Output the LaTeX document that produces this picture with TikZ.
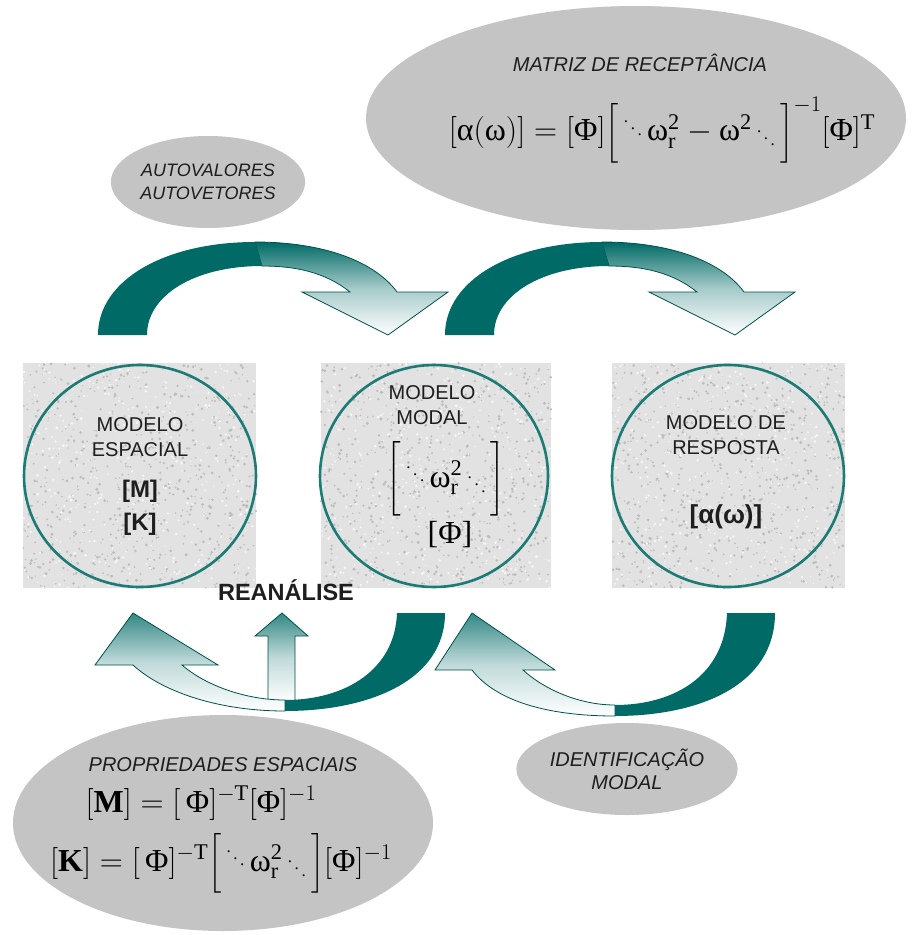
\documentclass[tikz,border=0pt]{standalone}
\usepackage{fix-cm}
\usepackage{amsmath}
\usepackage{fontspec}
\setmainfont{Liberation Serif}
\setsansfont{Liberation Sans}
\usepackage{tikz}
\usetikzlibrary{shapes.geometric}
\definecolor{arrowteal}{RGB}{0,106,102}
\definecolor{ringteal}{RGB}{28,124,117}
\definecolor{blobgrey}{RGB}{196,196,196}
\definecolor{granitebg}{RGB}{226,226,226}
\definecolor{speckgrey}{RGB}{188,188,188}
\definecolor{labelgrey}{RGB}{30,30,30}
\tikzset{
  blob/.style={ellipse,fill=blobgrey,inner sep=0pt},
  ring/.style={ellipse,draw=ringteal,line width=2.6pt,inner sep=0pt},
  caps/.style={font=\sffamily\fontsize{20}{25}\selectfont,text=labelgrey,
    align=center,inner sep=1pt},
  capsit/.style={font=\sffamily\itshape\fontsize{20}{23}\selectfont,text=labelgrey,
    align=center,inner sep=1pt},
  bigcaps/.style={font=\sffamily\bfseries\fontsize{24}{33}\selectfont,text=labelgrey,
    align=center,inner sep=1pt},
  eqn/.style={font=\rmfamily\fontsize{32}{34}\selectfont,inner sep=0pt},
  darkband/.style={fill=arrowteal},
  fadedown/.style={draw=arrowteal!75!black,line width=0.8pt,
    top color=arrowteal,bottom color=white,middle color=arrowteal!35!white},
  fadeup/.style={draw=arrowteal!75!black,line width=0.8pt,
    top color=arrowteal!80!white,bottom color=white,middle color=arrowteal!25!white}
}
\newcommand{\tx}[1]{\text{#1}}
% small diagonal dots, high and low
\newcommand{\dga}{\text{\fontsize{17}{17}\selectfont\raisebox{1.1em}{.}\kern.15em\raisebox{.7em}{.}\kern.15em\raisebox{.3em}{.}}}
\newcommand{\dgb}{\text{\fontsize{17}{17}\selectfont\raisebox{.5em}{.}\kern.15em\raisebox{.1em}{.}\kern.15em\raisebox{-.3em}{.}}}

\begin{document}
\begin{tikzpicture}[x=1pt,y=-1pt]
  \useasboundingbox (0,0) rectangle (914,935);
  \fill[white] (0,0) rectangle (914,935);

  % granite panels behind the three models
  \pgfmathsetseed{7}
  \foreach \xa/\xb in {23/256,321/551,612/845}{
    \fill[granitebg] (\xa,363) rectangle (\xb,588);
    \foreach \k in {1,...,700}
      \fill[speckgrey] ({\xa+rnd*(\xb-\xa)},{363+rnd*225}) circle ({0.6+rnd});
    \foreach \k in {1,...,400}
      \fill[white!70!granitebg] ({\xa+rnd*(\xb-\xa)},{363+rnd*225}) circle ({0.6+rnd});
  }

  % the three models
  \node[ring,minimum width=232,minimum height=222] (espacial) at (140,476) {};
  \node[ring,minimum width=228,minimum height=222] (modal) at (434,476) {};
  \node[ring,minimum width=232,minimum height=222] (resposta) at (728,476) {};

  \node[caps] (espacialtxt) at (140,437) {MODELO\\ESPACIAL};
  \node[bigcaps] (mktxt) at (140,508) {{[M]}\\{[K]}};
  \node[caps] (modaltxt) at (432,405) {MODELO\\MODAL};
  \node[eqn] (lambda) at (446,479)
    {$\biggl[\,\dga\,\tx{ω}_{\tx{r}}^{\tx{2}}\,\dgb\,\biggr]$};
  \node[eqn] (phi) at (450,535) {[Φ]};
  \node[caps] (respostatxt) at (726,435) {MODELO DE\\RESPOSTA};
  \node[font=\sffamily\bfseries\fontsize{26}{30}\selectfont,text=labelgrey]
    (alpha) at (726,517) {[α(ω)]};
  \node[font=\sffamily\bfseries\fontsize{23.5}{28}\selectfont,text=labelgrey]
    (reanalise) at (286,590) {REANÁLISE};

  % grey ellipses
  \node[blob,minimum width=540,minimum height=224] (receptancia) at (636,118) {};
  \node[capsit] (receptanciatxt) at (640,63) {MATRIZ DE RECEPTÂNCIA};
  \node[eqn] (receptanciaeq) at (662,130)
    {$[\tx{α}(\tx{ω})]=[\tx{Φ}]\Bigl[\,\dga\,\tx{ω}_{\tx{r}}^{\tx{2}}-\tx{ω}^{\tx{2}}\,\dgb\,\Bigr]^{-1}[\tx{Φ}]^{\tx{T}}$};
  \node[blob,capsit,font=\sffamily\itshape\fontsize{18}{23}\selectfont,
    minimum width=194,minimum height=92] (autovalores) at (208,182)
    {AUTOVALORES\\AUTOVETORES};
  \node[blob,minimum width=420,minimum height=216] (propriedades) at (223,823) {};
  \node[capsit] (propriedadestxt) at (223,765) {PROPRIEDADES ESPACIAIS};
  \node[eqn] (meq) at (201,803)
    {$[\textbf{M}]=[\,\tx{Φ}]^{-\tx{T}}[\tx{Φ}]^{-1}$};
  \node[eqn] (keq) at (221,863)
    {$[\textbf{K}]=[\,\tx{Φ}]^{-\tx{T}}\Bigl[\,\dga\,\tx{ω}_{\tx{r}}^{\tx{2}}\,\dgb\,\Bigr][\tx{Φ}]^{-1}$};
  \node[blob,capsit,minimum width=216,minimum height=92] (identificacao)
    at (627,769) {IDENTIFICAÇÃO\\MODAL};

  % curved arrows, top: espacial -> modal -> resposta
  \foreach \dx in {0,347}{
    \begin{scope}[shift={(\dx,0)}]
      \path[fadedown] (255,242) .. controls (325,242) and (375,262) .. (397,292)
        -- (448,292) -- (388,335) -- (302,292) -- (350,292)
        .. controls (325,272) and (295,266) .. (262,266) -- cycle;
      \fill[darkband] (98,335) .. controls (98,280) and (165,242) .. (255,242)
        -- (262,266) .. controls (195,266) and (147,295) .. (147,335) -- cycle;
    \end{scope}
  }

  % curved arrows, bottom: modal -> espacial, resposta -> modal
  \path[fadeup] (268,702) -- (268,636) -- (255,636) -- (282,613)
    -- (308,636) -- (295,636) -- (295,702) -- cycle;
  \path[fadeup] (285,711) .. controls (215,711) and (160,690) .. (133,665)
    -- (95,665) -- (133,613) -- (218,665) -- (182,665)
    .. controls (205,685) and (245,700) .. (285,700) -- cycle;
  \fill[darkband] (445,613) .. controls (445,680) and (370,711) .. (285,711)
    -- (285,700) .. controls (345,700) and (395,670) .. (397,613) -- cycle;
  \path[fadeup] (615,716) .. controls (545,716) and (495,700) .. (472,670)
    -- (435,670) -- (472,613) -- (555,670) -- (523,670)
    .. controls (545,690) and (580,705) .. (615,705) -- cycle;
  \fill[darkband] (775,613) .. controls (775,685) and (700,716) .. (615,716)
    -- (615,705) .. controls (675,705) and (725,675) .. (727,613) -- cycle;
\end{tikzpicture}
\end{document}
